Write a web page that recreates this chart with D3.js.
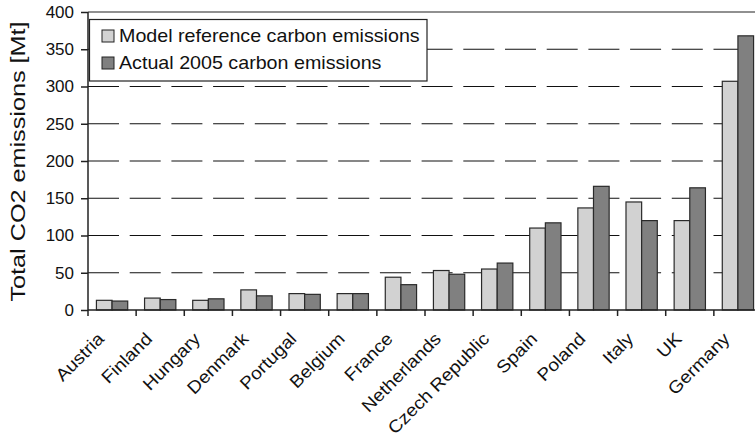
<!DOCTYPE html>
<html>
<head>
<meta charset="utf-8">
<script src="https://cdn.jsdelivr.net/npm/d3@7"></script>
<style>
  body { margin: 0; background: #fff; }
  text { font-family: "Liberation Sans", Arial, sans-serif; fill: #111; }
</style>
</head>
<body>
<script>
// Chart data
var countries = ["Austria", "Finland", "Hungary", "Denmark", "Portugal", "Belgium", "France",
                 "Netherlands", "Czech Republic", "Spain", "Poland", "Italy", "UK", "Germany"];
var modelReference = [13, 16, 13, 27, 22, 22, 44, 53, 55, 110, 137, 145, 120, 307];
var actual2005 = [12, 14, 15, 19, 21, 22, 34, 48, 63, 117, 166, 120, 164, 368];
var yTicks = [0, 50, 100, 150, 200, 250, 300, 350, 400];
var seriesNames = ["Model reference carbon emissions", "Actual 2005 carbon emissions"];
var seriesColors = ["#d2d2d2", "#808080"];

var w = 755, h = 440;
var plotLeft = 88, plotRight = 762, plotTop = 12, plotBottom = 310;

var svg = d3.select("body").append("svg").attr("width", w).attr("height", h);

// Scales
var x = d3.scaleBand().domain(countries).range([plotLeft, plotRight]).paddingInner(0.35).paddingOuter(0.175);
var xTick = d3.scaleBand().domain(countries).range([plotLeft, plotRight]);
var sub = d3.scaleBand().domain([0, 1]).range([0, x.bandwidth()]);
var y = d3.scaleLinear().domain([0, 400]).range([plotBottom, plotTop]);

// Dashed gridlines
svg.append("g").selectAll("line").data(yTicks.filter(function(d) { return d > 0 && d < 400; }))
   .enter().append("line")
   .attr("x1", plotLeft).attr("x2", w)
   .attr("y1", function(d) { return y(d); }).attr("y2", function(d) { return y(d); })
   .attr("stroke", "#111").attr("stroke-width", 1.2).attr("stroke-dasharray", "31,10.7");

// Top frame line
svg.append("line").attr("x1", plotLeft).attr("x2", w).attr("y1", y(400)).attr("y2", y(400))
   .attr("stroke", "#222").attr("stroke-width", 1.2);

// Bars
var rows = countries.map(function(c, i) { return [modelReference[i], actual2005[i]]; });
var groups = svg.append("g").selectAll("g").data(rows).enter().append("g")
   .attr("transform", function(d, i) { return "translate(" + x(countries[i]) + ",0)"; });
groups.selectAll("rect").data(function(d) { return d; }).enter().append("rect")
   .attr("x", function(d, j) { return sub(j); })
   .attr("y", function(d) { return y(d); })
   .attr("width", sub.bandwidth())
   .attr("height", function(d) { return y(0) - y(d); })
   .attr("fill", function(d, j) { return seriesColors[j]; })
   .attr("stroke", "#2a2a2a").attr("stroke-width", 1.2);

// Y axis
var yAxis = d3.axisLeft(y).tickValues(yTicks).tickSize(7).tickPadding(7);
var gy = svg.append("g").attr("transform", "translate(" + plotLeft + ",0)").call(yAxis);
gy.selectAll("text").style("font-size", "17px").style("font-family", "Liberation Sans, Arial");
gy.selectAll("line, path").attr("stroke", "#222").attr("stroke-width", 1.5);
gy.select(".domain").attr("d", "M0," + plotTop + "V" + plotBottom);

// X axis baseline and ticks between categories
svg.append("line").attr("x1", plotLeft).attr("x2", w).attr("y1", plotBottom).attr("y2", plotBottom)
   .attr("stroke", "#222").attr("stroke-width", 1.5);
svg.append("g").selectAll("line").data(countries).enter().append("line")
   .attr("x1", function(d) { return xTick(d); }).attr("x2", function(d) { return xTick(d); })
   .attr("y1", plotBottom).attr("y2", plotBottom + 6)
   .attr("stroke", "#222").attr("stroke-width", 1.5);

// Category labels, rotated (the source font runs wider than Arial)
svg.append("g").selectAll("text").data(countries).enter().append("text")
   .attr("transform", function(d) {
     return "translate(" + (xTick(d) + xTick.bandwidth() / 2 - 7) + "," + (plotBottom + 30) + ") rotate(-45) scale(1.1,1)";
   })
   .attr("text-anchor", "end")
   .style("font-size", "17.5px")
   .text(function(d) { return d; });

// Y axis title
svg.append("text").attr("transform", "translate(25,161.5) rotate(-90) scale(1.2,1)")
   .attr("text-anchor", "middle").style("font-size", "21px")
   .text("Total CO2 emissions [Mt]");

// Legend
var legend = svg.append("g");
legend.append("rect").attr("x", 89.5).attr("y", 19.5).attr("width", 337.5).attr("height", 61.5)
   .attr("fill", "#fff").attr("stroke", "#222").attr("stroke-width", 1.2);
var items = legend.selectAll("g").data(seriesNames).enter().append("g")
   .attr("transform", function(d, i) { return "translate(102," + (36 + i * 27) + ")"; });
items.append("rect").attr("x", 0).attr("y", -6).attr("width", 12).attr("height", 12)
   .attr("fill", function(d, i) { return seriesColors[i]; })
   .attr("stroke", "#222").attr("stroke-width", 1);
items.append("text").attr("transform", "translate(17,0) scale(1.125,1)")
   .attr("dy", "0.36em").style("font-size", "17.5px")
   .text(function(d) { return d; });
</script>
</body>
</html>
